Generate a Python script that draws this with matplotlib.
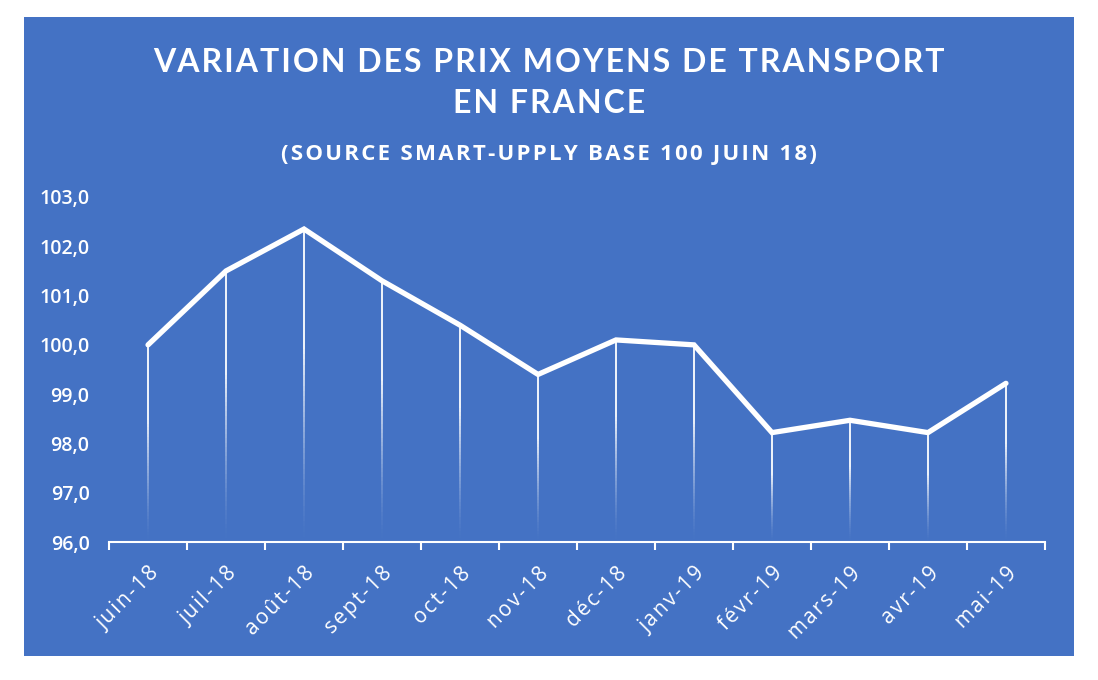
import matplotlib.pyplot as plt
import numpy as np
from matplotlib.collections import LineCollection
from matplotlib.patches import Rectangle

# data (base 100 = juin 18)
mois = ['juin-18', 'juil-18', 'août-18', 'sept-18', 'oct-18', 'nov-18',
        'déc-18', 'janv-19', 'févr-19', 'mars-19', 'avr-19', 'mai-19']
indice = [100.0, 101.5, 102.35, 101.3, 100.4, 99.4,
          100.1, 100.0, 98.22, 98.47, 98.22, 99.22]
yticks = [96, 97, 98, 99, 100, 101, 102, 103]

bleu = '#4472C4'
plt.rcParams['font.family'] = ['Open Sans', 'DejaVu Sans']


def espace(txt):
    # rough letter spacing with hair spaces
    return '\u200a'.join(txt)


fig = plt.figure(figsize=(10.98, 6.8), dpi=100)
fig.patch.set_facecolor('white')
fig.patches.append(Rectangle((0.022, 0.035), 0.956, 0.94, transform=fig.transFigure,
                             facecolor=bleu, edgecolor='none', zorder=-5))

ax = fig.add_axes([0.0993, 0.2029, 0.8524, 0.5074])
ax.set_zorder(2)
ax.set_facecolor('none')

x = np.arange(len(mois))
ymin, ymax = 96, 103

# drop lines fading toward the bottom
segs, cols = [], []
n = 60
for xi, yi in zip(x, indice):
    ys = np.linspace(ymin, yi, n + 1)
    for k in range(n):
        frac = (k + 0.5) / n
        a = min(1.0, frac * 1.6) ** 1.5
        segs.append([(xi, ys[k]), (xi, ys[k + 1])])
        cols.append((1, 1, 1, a))
ax.add_collection(LineCollection(segs, colors=cols, linewidths=1.3, zorder=2))

ax.plot(x, indice, color='white', lw=3.8, solid_joinstyle='miter',
        solid_capstyle='round', zorder=3)

ax.set_xlim(-0.5, len(mois) - 0.5)
ax.set_ylim(ymin, ymax)
ax.set_yticks(yticks)
ax.set_yticklabels([f'{v:.1f}'.replace('.', ',') for v in yticks],
                   color='white', fontsize=14, fontweight='semibold')
ax.tick_params(axis='y', length=0, pad=14)

ax.set_xticks(x)
ax.set_xticklabels([espace(m) for m in mois], rotation=45, ha='right', va='top',
                   rotation_mode='anchor', color='white', fontsize=15)
ax.tick_params(axis='x', which='major', length=0, pad=15)
ax.set_xticks(np.arange(-0.5, len(mois)), minor=True)
ax.tick_params(axis='x', which='minor', length=6, width=1.5, color='white')

for s in ['top', 'right', 'left']:
    ax.spines[s].set_visible(False)
ax.spines['bottom'].set_color('white')
ax.spines['bottom'].set_linewidth(1.5)

fig.text(0.5, 0.894, espace('VARIATION DES PRIX MOYENS DE TRANSPORT'),
         ha='center', va='baseline', color='white', fontsize=23,
         fontweight='bold', family=['Lato', 'DejaVu Sans'])
fig.text(0.5, 0.834, espace('EN FRANCE'),
         ha='center', va='baseline', color='white', fontsize=23,
         fontweight='bold', family=['Lato', 'DejaVu Sans'])
fig.text(0.5, 0.764, espace('(SOURCE SMART-UPPLY BASE 100 JUIN 18)'), ha='center',
         va='baseline', color='white', fontsize=16, fontweight='bold')

fig.savefig('out.png', dpi=100, facecolor='white')
